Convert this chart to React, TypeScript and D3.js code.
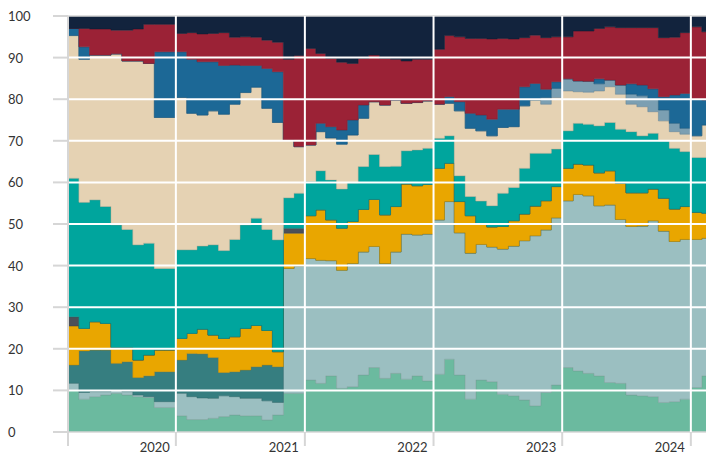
import React from 'react';
import * as d3 from 'd3';

// monthly shares (percent), Mar 2019 - Feb 2024, bottom layer first
const months = d3.timeMonths(new Date(2019, 2, 1), new Date(2024, 2, 1));
const endDate = new Date(2024, 2, 1);

const green = [
  10.1, 7.9, 8.5, 8.9, 9.3, 8.9, 8.5, 8.3, 5.9, 5.9,
  3.9, 3.0, 3.0, 3.3, 3.7, 4.1, 3.9, 3.9, 2.9, 4.1,
  9.3, 9.3, 12.5, 11.7, 13.5, 10.5, 10.9, 13.7, 15.5, 12.9,
  14.1, 12.7, 13.5, 12.3, 13.9, 17.5, 13.7, 7.9, 12.5, 12.1,
  9.1, 8.7, 7.7, 6.3, 9.5, 11.3, 15.5, 14.7, 14.1, 13.5,
  11.9, 11.7, 8.9, 8.7, 8.5, 7.1, 7.3, 7.9, 10.7, 13.5,
];
const paleBlue = [
  1.6, 1.6, 1.2, 0.8, 0.8, 0.8, 0.4, 0.2, 1.4, 1.4,
  5.4, 5.5, 5.2, 4.8, 5.0, 4.4, 4.2, 4.2, 4.6, 3.0,
  30.0, 30.6, 29.2, 29.6, 27.7, 28.4, 29.6, 29.6, 29.1, 27.6,
  29.2, 34.9, 33.9, 35.3, 37.1, 37.9, 34.2, 35.1, 32.6, 32.4,
  34.9, 36.0, 38.3, 40.9, 39.1, 40.2, 40.1, 42.4, 42.7, 40.9,
  42.7, 39.4, 40.5, 40.8, 42.3, 41.2, 38.5, 38.4, 35.6, 33.1,
];
const darkTeal = [
  4.4, 10.0, 10.0, 10.0, 6.4, 7.2, 4.2, 5.0, 7.2, 7.2,
  8.0, 10.4, 10.6, 9.8, 5.6, 6.0, 6.8, 7.6, 8.6, 8.6,
  0, 0, 0, 0, 0, 0, 0, 0, 0, 0,
  0, 0, 0, 0, 0, 0, 0, 0, 0, 0,
  0, 0, 0, 0, 0, 0, 0, 0, 0, 0,
  0, 0, 0, 0, 0, 0, 0, 0, 0, 0,
];
const gold = [
  9.4, 5.4, 6.8, 6.4, 3.8, 3.4, 4.2, 5.0, 5.2, 5.2,
  5.2, 4.8, 5.9, 5.4, 8.2, 8.4, 10.0, 9.9, 8.3, 3.6,
  8.5, 7.9, 10.3, 12.1, 9.8, 10.1, 10.1, 10.2, 11.3, 11.7,
  10.9, 12.0, 11.8, 11.9, 12.4, 9.2, 7.5, 9.0, 4.9, 4.8,
  5.4, 6.1, 6.4, 7.1, 7.0, 7.5, 7.8, 7.3, 7.4, 7.9,
  8.2, 8.7, 8.1, 8.0, 7.6, 7.9, 7.8, 7.9, 6.5, 6.0,
];
const slate = [
  2.2, 0, 0, 0, 0, 0, 0, 0, 0, 0,
  0, 0, 0, 0, 0, 0, 0, 0, 0, 0,
  1.2, 1.2, 0, 0, 0, 0, 0, 0, 0, 0,
  0, 0, 0, 0, 0, 0, 0, 0, 0, 0,
  0, 0, 0, 0, 0, 0, 0, 0, 0, 0,
  0, 0, 0, 0, 0, 0, 0, 0, 0, 0,
];
const teal = [
  33.3, 30.3, 29.3, 28.1, 29.5, 28.4, 27.7, 26.9, 19.6, 19.6,
  21.3, 20.1, 20.0, 21.7, 21.1, 23.4, 24.9, 25.8, 24.3, 26.9,
  7.3, 8.4, 8.2, 9.4, 9.6, 9.4, 9.3, 10.3, 10.8, 11.6,
  9.7, 8.0, 8.6, 8.7, 7.2, 6.6, 6.2, 4.6, 5.5, 5.1,
  8.0, 8.0, 11.0, 12.7, 11.4, 9.0, 9.0, 9.8, 9.8, 11.3,
  11.6, 13.0, 14.7, 13.7, 13.4, 13.8, 14.6, 13.2, 13.2, 13.4,
];
const sand = [
  34.3, 34.4, 34.8, 36.4, 41.1, 40.5, 44.2, 43.2, 36.3, 36.3,
  36.6, 32.8, 31.5, 32.2, 32.8, 32.5, 31.8, 31.5, 29.1, 28.2,
  13.9, 11.2, 8.8, 9.4, 10.1, 10.8, 11.5, 11.6, 12.7, 14.8,
  15.9, 11.4, 11.4, 11.4, 8.2, 7.8, 15.6, 16.4, 16.9, 16.8,
  15.8, 14.6, 15.0, 12.8, 11.8, 12.4, 9.6, 7.6, 7.7, 8.4,
  8.6, 8.4, 6.6, 7.0, 5.2, 4.8, 4.0, 4.2, 5.2, 7.8,
];
const steel = [
  0, 0, 0, 0, 0, 0, 0, 0, 0, 0,
  0, 0, 0, 0, 0, 0, 0, 0, 0, 0,
  0, 0, 0, 0, 0, 0, 0, 0, 0, 0,
  0, 0, 0, 0, 0, 0, 0, 0, 0, 0,
  0, 0, 0, 0, 1.6, 2.2, 2.9, 2.6, 2.6, 1.7,
  1.6, 2.2, 2.4, 2.6, 3.0, 2.6, 2.0, 1.4, 0, 0,
];
const blue = [
  1.7, 3.0, 0, 0, 0, 0, 0, 0, 15.8, 15.8,
  11.0, 13.0, 12.8, 11.8, 11.7, 9.4, 6.5, 5.2, 9.6, 12.2,
  0, 0, 0, 2.0, 2.7, 3.4, 3.6, 3.2, 0, 0,
  0, 0, 0, 0, 0, 1.6, 2.2, 3.6, 3.8, 4.0,
  4.4, 4.2, 4.6, 4.0, 2.0, 1.6, 0, 0, 0, 1.2,
  0, 0, 2.5, 2.6, 2.5, 3.2, 6.8, 8.4, 8.8, 6.0,
];
const red = [
  0, 4.4, 6.3, 6.3, 5.7, 7.4, 7.7, 9.4, 6.6, 6.6,
  4.4, 6.4, 6.7, 6.8, 7.9, 6.7, 6.9, 6.8, 6.8, 7.1,
  19.4, 21.9, 23.2, 16.8, 16.4, 16.3, 13.6, 11.2, 11.2, 11.2,
  9.8, 10.2, 10.4, 10.0, 13.2, 14.7, 15.6, 18.0, 18.4, 19.3,
  17.0, 16.9, 11.8, 11.6, 12.4, 10.8, 10.1, 12.0, 12.1, 12.1,
  12.8, 13.8, 13.5, 13.8, 14.7, 14.2, 13.9, 14.6, 17.4, 16.4,
];
const navy = [
  3.0, 3.0, 3.1, 3.1, 3.4, 3.4, 3.1, 2.0, 2.0, 2.0,
  4.2, 4.0, 4.3, 4.2, 4.0, 5.1, 5.0, 5.1, 5.8, 6.3,
  10.4, 9.5, 7.8, 9.0, 10.2, 11.1, 11.4, 10.2, 9.4, 10.2,
  10.4, 10.8, 10.4, 10.4, 8.0, 4.7, 5.0, 5.4, 5.4, 5.5,
  5.4, 5.5, 5.2, 4.6, 5.2, 5.0, 5.0, 3.6, 3.6, 3.0,
  2.6, 2.8, 2.8, 2.8, 2.8, 5.2, 5.1, 4.0, 2.6, 3.8,
];

const seriesKeys = ['green', 'paleBlue', 'darkTeal', 'gold', 'slate', 'teal', 'sand', 'steel', 'blue', 'red', 'navy'];
const seriesValues = [green, paleBlue, darkTeal, gold, slate, teal, sand, steel, blue, red, navy];
const seriesColors = ['#6bba9f', '#9bbfc1', '#367e80', '#e9a600', '#4b5058', '#00a59d', '#e5d2b3', '#7b9fb2', '#1c6896', '#9b2236', '#12233d'];

const yTicks = [0, 10, 20, 30, 40, 50, 60, 70, 80, 90, 100];
const yearTicks = [2020, 2021, 2022, 2023, 2024];

const W = 706;
const H = 456;
const left = 68;
const top = 16;
const bottom = 432;

type Row = { date: Date; [k: string]: number | Date };

export default function App() {
  const x = d3.scaleTime().domain([months[0], endDate]).range([left, 712]);
  const y = d3.scaleLinear().domain([0, 100]).range([bottom, top]);

  const rows: Row[] = months.map((d, i) => {
    const r: Row = { date: d };
    seriesKeys.forEach((k, j) => (r[k] = seriesValues[j][i]));
    return r;
  });
  // extra point so the last month gets its full step
  rows.push({ ...rows[rows.length - 1], date: endDate });

  const stack = d3.stack<Row>().keys(seriesKeys).value((d, k) => d[k] as number);
  const layers = stack(rows);

  const area = d3
    .area<d3.SeriesPoint<Row>>()
    .x((d) => x(d.data.date as Date))
    .y0((d) => y(d[0]))
    .y1((d) => y(d[1]))
    .curve(d3.curveStepAfter);

  const grey = '#d6d6d6';
  const font = 'Lato, "Open Sans", sans-serif';

  return (
    <svg width={W} height={H} style={{ position: 'absolute', left: 0, top: 0 }}>
      <defs>
        <clipPath id="plot">
          <rect x={left} y={top} width={W - left} height={bottom - top} />
        </clipPath>
      </defs>
      <g clipPath="url(#plot)">
        {layers.map((l, i) => (
          <path
            key={seriesKeys[i]}
            d={area(l) ?? ''}
            fill={seriesColors[i]}
            stroke={d3.color(seriesColors[i])!.darker(0.5).formatHex()}
            strokeWidth={0.5}
          />
        ))}
      </g>
      {/* horizontal grid: grey stubs to the left, white across the plot */}
      {yTicks.map((t) => (
        <g key={t}>
          <line x1={53} x2={left} y1={y(t)} y2={y(t)} stroke={grey} strokeWidth={2} />
          <line
            x1={left}
            x2={W}
            y1={y(t)}
            y2={y(t)}
            stroke={t === 0 || t === 100 ? grey : '#fff'}
            strokeWidth={t === 0 || t === 100 ? 1.5 : 2}
          />
          <text x={8} y={y(t) + 5} fontSize={13} fontFamily={font} fill="#333">
            {t}
          </text>
        </g>
      ))}
      {/* left edge */}
      <line x1={left} x2={left} y1={top} y2={446} stroke={grey} strokeWidth={2} />
      {/* years */}
      {yearTicks.map((yr) => {
        const xx = x(new Date(yr, 0, 1));
        return (
          <g key={yr}>
            <line x1={xx} x2={xx} y1={top} y2={bottom} stroke="#fff" strokeWidth={2} />
            <line x1={xx} x2={xx} y1={bottom} y2={446} stroke={grey} strokeWidth={2} />
            <text x={xx - 6} y={452} fontSize={13} fontFamily={font} fill="#333" textAnchor="end">
              {yr}
            </text>
          </g>
        );
      })}
    </svg>
  );
}
